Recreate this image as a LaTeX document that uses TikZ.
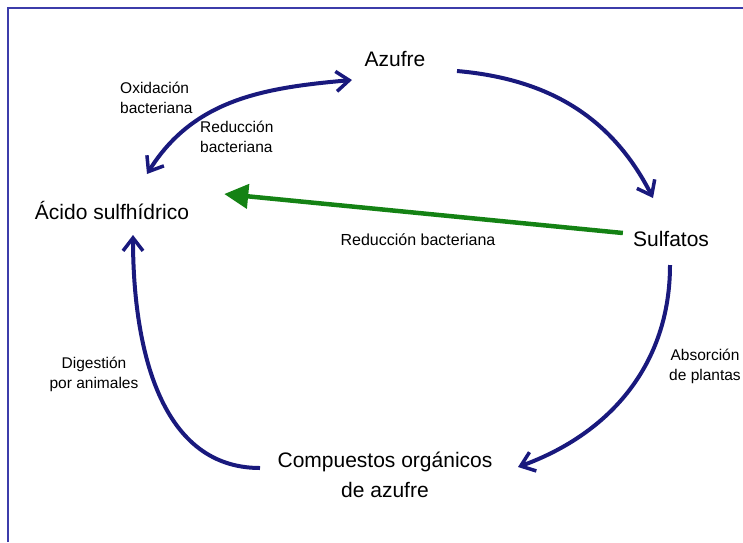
\documentclass[tikz,border=0pt]{standalone}
\usepackage{fontspec}
\setmainfont{Liberation Sans}
\usetikzlibrary{arrows.meta}
\definecolor{azulciclo}{RGB}{25,25,125}
\definecolor{verdered}{RGB}{20,130,20}
\definecolor{marco}{RGB}{60,60,170}

\begin{document}
\begin{tikzpicture}[x=1pt,y=1pt,
    grande/.style={inner sep=0pt,font=\fontsize{21}{30}\selectfont},
    chico/.style={inner sep=0pt,font=\fontsize{15.5}{20}\selectfont},
    flecha/.style={line width=4pt,azulciclo,-{Straight Barb[length=13pt,width=20pt,line width=3.5pt]}},
    dobleflecha/.style={line width=4pt,azulciclo,{Straight Barb[length=13pt,width=20pt,line width=3.5pt]}-{Straight Barb[length=13pt,width=20pt,line width=3.5pt]}}]
\useasboundingbox (0,0) rectangle (743,-542);
\draw[marco, line width=1.5pt] (8,-542) -- (8,-8) -- (743,-8);

\node[grande] (azufre) at (395,-59) {Azufre};
\node[grande] (acido) at (112,-210) {Ácido sulfhídrico};
\node[grande] (sulfatos) at (671,-239) {Sulfatos};
\node[grande, align=center] (compuestos) at (385,-475) {Compuestos orgánicos\\de azufre};

\node[chico, align=left, anchor=west] (oxid) at (120,-98) {Oxidación\\bacteriana};
\node[chico, align=left, anchor=west] (reduc) at (200,-137) {Reducción\\bacteriana};
\node[chico, align=center] (digest) at (94,-374.5) {Digestión\\por animales};
\node[chico, align=center] (absorc) at (705,-366.5) {Absorción\\de plantas};
\node[inner sep=0pt, font=\fontsize{16}{20}\selectfont] (reducverde) at (418,-239.5) {Reducción bacteriana};

\draw[flecha] ([shift={(62,-12)}]azufre.center) to[out=-5,in=117] ([shift={(-18,41)}]sulfatos.center);
\draw[flecha] ([shift={(-1,-26)}]sulfatos.center) to[out=-90,in=20] ([shift={(133,8)}]compuestos.center);
\draw[flecha] ([shift={(-125,7)}]compuestos.center) to[out=180,in=-90] ([shift={(21,-25)}]acido.center);
\draw[dobleflecha] ([shift={(35,36)}]acido.center) to[out=58,in=185] ([shift={(-43,-21)}]azufre.center);
\draw[line width=4.5pt, verdered, -{Triangle[length=24pt,width=24pt]}] ([shift={(-10,6)}]sulfatos.west) -- ([shift={(35,16)}]acido.east);
\end{tikzpicture}
\end{document}
